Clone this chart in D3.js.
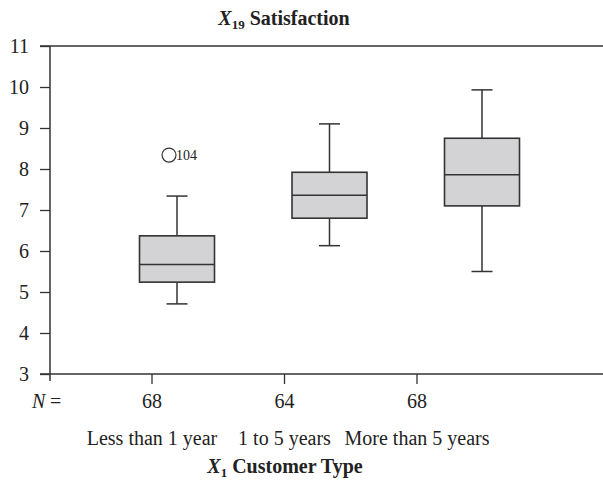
<!DOCTYPE html>
<html><head><meta charset="utf-8">
<script src="https://cdn.jsdelivr.net/npm/d3@7"></script>
<style>body{margin:0;background:#fff}svg{display:block}text{font-family:"Liberation Serif",serif;fill:#222}</style>
</head><body><svg id="c" width="603" height="487"></svg>
<script>
const categories = ["Less than 1 year", "1 to 5 years", "More than 5 years"];
const counts = [68, 64, 68];
const whiskerLow = [4.71, 6.13, 5.50];
const q1 = [5.24, 6.80, 7.10];
const median = [5.67, 7.36, 7.86];
const q3 = [6.37, 7.92, 8.75];
const whiskerHigh = [7.34, 9.10, 9.93];
const outliers = [{cat: 0, value: 8.34, label: "104"}];
const yTicks = [3, 4, 5, 6, 7, 8, 9, 10, 11];

const svg = d3.select("#c");
const stroke = "#333";
const fs = 20;
const y = d3.scaleLinear().domain([3, 11]).range([374, 46]);
const xLab = d3.scalePoint().domain(d3.range(3)).range([152, 417]);
const xBox = d3.scalePoint().domain(d3.range(3)).range([177, 482]);
const boxW = 75, capW = 21;

// top & bottom frame lines
svg.append("line").attr("x1", 40).attr("x2", 603).attr("y1", y(11)).attr("y2", y(11)).attr("stroke", stroke).attr("stroke-width", 1.5);
svg.append("line").attr("x1", 40).attr("x2", 603).attr("y1", y(3)).attr("y2", y(3)).attr("stroke", stroke).attr("stroke-width", 1.5);

// y axis
const yAxis = d3.axisLeft(y).tickValues(yTicks).tickSize(10).tickPadding(11);
const ga = svg.append("g").attr("transform", "translate(50,0)").call(yAxis);
ga.select(".domain").remove();
ga.selectAll(".tick line").attr("stroke", stroke).attr("stroke-width", 1.3);
ga.selectAll(".tick text").attr("font-size", fs).attr("font-family", "Liberation Serif").attr("fill", "#222").attr("dy", "0.33em");
svg.append("line").attr("x1", 50).attr("x2", 50).attr("y1", y(11)).attr("y2", y(3) + 7).attr("stroke", stroke).attr("stroke-width", 1.5);

// x ticks
svg.selectAll(".xt").data(d3.range(3)).join("line")
  .attr("x1", d => xLab(d)).attr("x2", d => xLab(d)).attr("y1", y(3)).attr("y2", y(3) + 10)
  .attr("stroke", stroke).attr("stroke-width", 1.3);

// boxes
const g = svg.append("g");
d3.range(3).forEach(i => {
  const cx = xBox(i);
  g.append("line").attr("x1", cx).attr("x2", cx).attr("y1", y(whiskerHigh[i])).attr("y2", y(q3[i])).attr("stroke", stroke).attr("stroke-width", 1.5);
  g.append("line").attr("x1", cx).attr("x2", cx).attr("y1", y(q1[i])).attr("y2", y(whiskerLow[i])).attr("stroke", stroke).attr("stroke-width", 1.5);
  g.append("line").attr("x1", cx - capW / 2).attr("x2", cx + capW / 2).attr("y1", y(whiskerHigh[i])).attr("y2", y(whiskerHigh[i])).attr("stroke", stroke).attr("stroke-width", 1.5);
  g.append("line").attr("x1", cx - capW / 2).attr("x2", cx + capW / 2).attr("y1", y(whiskerLow[i])).attr("y2", y(whiskerLow[i])).attr("stroke", stroke).attr("stroke-width", 1.5);
  g.append("rect").attr("x", cx - boxW / 2).attr("width", boxW).attr("y", y(q3[i])).attr("height", y(q1[i]) - y(q3[i]))
    .attr("fill", "#d3d3d5").attr("stroke", stroke).attr("stroke-width", 1.6);
  g.append("line").attr("x1", cx - boxW / 2).attr("x2", cx + boxW / 2).attr("y1", y(median[i])).attr("y2", y(median[i])).attr("stroke", stroke).attr("stroke-width", 1.6);
});

// outliers
outliers.forEach(o => {
  const cx = xBox(o.cat) - 8;
  g.append("circle").attr("cx", cx).attr("cy", y(o.value)).attr("r", 7).attr("fill", "none").attr("stroke", stroke).attr("stroke-width", 1.2);
  g.append("text").attr("x", cx + 7).attr("y", y(o.value) + 5).attr("font-size", 14).text(o.label);
});

// N = row
svg.append("text").attr("x", 32).attr("y", 408).attr("font-size", fs).attr("font-style", "italic").text("N");
svg.append("text").attr("x", 50).attr("y", 408).attr("font-size", fs).text("=");
svg.selectAll(".cnt").data(counts).join("text").attr("x", (d, i) => xLab(i)).attr("y", 408)
  .attr("text-anchor", "middle").attr("font-size", fs).text(d => d);
svg.selectAll(".cat").data(categories).join("text").attr("x", (d, i) => xLab(i)).attr("y", 445)
  .attr("text-anchor", "middle").attr("font-size", fs).text(d => d);

// axis title
const xt = svg.append("text").attr("x", 285).attr("y", 473).attr("text-anchor", "middle").attr("font-size", fs).attr("font-weight", "bold");
xt.append("tspan").attr("font-style", "italic").text("X");
xt.append("tspan").attr("font-size", 13).attr("dy", 4).text("1");
xt.append("tspan").attr("dy", -4).text(" Customer Type");

// title
const tt = svg.append("text").attr("x", 284).attr("y", 25).attr("text-anchor", "middle").attr("font-size", fs).attr("font-weight", "bold");
tt.append("tspan").attr("font-style", "italic").text("X");
tt.append("tspan").attr("font-size", 13).attr("dy", 4).text("19");
tt.append("tspan").attr("dy", -4).text(" Satisfaction");
</script></body></html>
